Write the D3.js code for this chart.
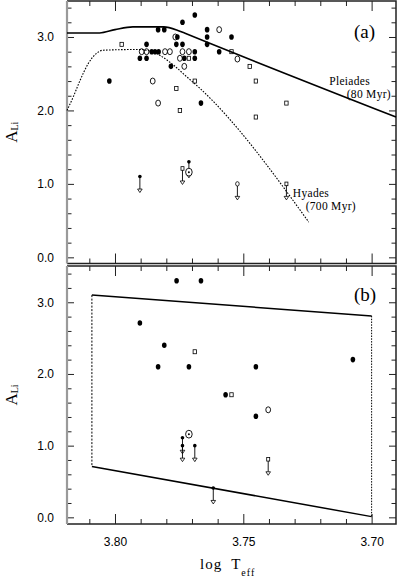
<!DOCTYPE html>
<html>
<head>
<meta charset="utf-8">
<script src="https://cdn.jsdelivr.net/npm/d3@7"></script>
<style>
  body { margin: 0; background: #fff; }
  svg { display: block; }
</style>
</head>
<body>
<svg id="chart" width="397" height="587"></svg>
<script>
// ---- data (log Teff, A(Li)) ----
const xMajor = [3.80, 3.75, 3.70];
const xMinor = [3.81, 3.79, 3.78, 3.77, 3.76, 3.74, 3.73, 3.72, 3.71];
const yMajor = [0, 1, 2, 3];
const yMinor = [0.2, 0.4, 0.6, 0.8, 1.2, 1.4, 1.6, 1.8, 2.2, 2.4, 2.6, 2.8, 3.2, 3.4];

// panel (a)
const aFilled = [
    [3.8022, 2.40], [3.7877, 2.90], [3.7903, 2.71], [3.7877, 2.71],
    [3.7857, 2.80], [3.7844, 2.80], [3.7830, 2.80], [3.7832, 3.10],
    [3.7808, 3.10], [3.7757, 3.00], [3.7761, 2.90], [3.7737, 2.90],
    [3.7782, 2.60], [3.7730, 2.71], [3.7737, 3.20], [3.7689, 3.30],
    [3.7689, 2.80], [3.7689, 2.71], [3.7665, 2.10], [3.7641, 3.10],
    [3.7641, 3.00], [3.7641, 2.90], [3.7546, 3.00], [3.7594, 2.80]
];
const aOpen = [
    [3.7896, 2.80], [3.7877, 2.80], [3.7805, 2.80], [3.7786, 2.80],
    [3.7737, 2.80], [3.7712, 2.80], [3.7765, 3.00], [3.7747, 2.71],
    [3.7730, 2.60], [3.7594, 3.10], [3.7523, 2.70], [3.7853, 2.40],
    [3.7832, 2.10]
];
const aSquare = [
    [3.7974, 2.90], [3.7712, 2.71], [3.7761, 2.30], [3.7747, 2.00],
    [3.7689, 2.40], [3.7546, 2.80], [3.7475, 2.60], [3.7451, 2.40],
    [3.7332, 2.10], [3.7451, 1.91]
];
// upper limits: [logT, A, symbol]
const aLimits = [
    [3.7903, 1.10, 'filled'], [3.7737, 1.21, 'square'], [3.7712, 1.30, 'filled'],
    [3.7523, 1.00, 'open'], [3.7332, 1.00, 'square']
];
const sun = [3.7712, 1.16];

const pleiades = [
    [3.8187, 3.055], [3.8060, 3.055], [3.8000, 3.10], [3.7930, 3.138],
    [3.7810, 3.138], [3.7755, 3.09], [3.7727, 3.05], [3.6905, 1.91]
];
const hyades = [
    [3.8187, 2.00], [3.8162, 2.19], [3.8136, 2.41], [3.8104, 2.64],
    [3.8071, 2.78], [3.8047, 2.82], [3.7903, 2.83], [3.7877, 2.82],
    [3.7825, 2.75], [3.7773, 2.62], [3.7721, 2.46], [3.7669, 2.30],
    [3.7245, 0.48]
];

// panel (b)
const bFilled = [
    [3.7760, 3.30], [3.7665, 3.30], [3.7903, 2.71], [3.7808, 2.40],
    [3.7832, 2.10], [3.7712, 2.10], [3.7451, 2.10], [3.7073, 2.20],
    [3.7569, 1.71], [3.7451, 1.41]
];
const bOpen = [[3.7403, 1.50]];
const bSquare = [[3.7689, 2.31], [3.7546, 1.71]];
const bLimits = [
    [3.7737, 1.11, 'filled'], [3.7737, 1.00, 'filled'], [3.7689, 1.00, 'filled'],
    [3.7617, 0.41, 'filled'], [3.7403, 0.81, 'square']
];
const boxX = [3.809, 3.700];
const boxTop = [3.10, 2.81];
const boxBottom = [0.71, 0.01];

// ---- layout ----
const left = 67, right = 396;
const x = d3.scaleLinear().domain([3.8187, 3.6905]).range([left, right]);
const yA = d3.scaleLinear().domain([-0.084, 3.49]).range([263.5, 1]);
const yB = d3.scaleLinear().domain([-0.093, 3.506]).range([524, 266]);

const svg = d3.select('#chart');
const sans = "'Liberation Sans', Arial, Helvetica, sans-serif";
const serif = "'Liberation Serif', 'Times New Roman', serif";

function styleAxis(sel) {
    sel.select('.domain').remove();
    sel.selectAll('line').attr('stroke', '#222').attr('stroke-width', 1);
    sel.attr('font-family', sans).attr('font-size', 12);
}

function drawFrame(y, top, bottom, xLabels) {
    const g = svg.append('g');

    g.append('g').attr('transform', `translate(${left},0)`)
        .call(d3.axisLeft(y).tickValues(yMajor).tickSize(-7).tickPadding(13).tickFormat(d3.format('.1f')))
        .call(styleAxis);
    g.append('g').attr('transform', `translate(${left},0)`)
        .call(d3.axisLeft(y).tickValues(yMinor).tickSize(-4.5).tickFormat(''))
        .call(styleAxis);
    g.append('g').attr('transform', `translate(${right},0)`)
        .call(d3.axisRight(y).tickValues(yMajor).tickSize(-7).tickFormat(''))
        .call(styleAxis);
    g.append('g').attr('transform', `translate(${right},0)`)
        .call(d3.axisRight(y).tickValues(yMinor).tickSize(-4.5).tickFormat(''))
        .call(styleAxis);

    g.append('g').attr('transform', `translate(0,${top})`)
        .call(d3.axisTop(x).tickValues(xMajor).tickSize(-10).tickFormat(''))
        .call(styleAxis);
    g.append('g').attr('transform', `translate(0,${top})`)
        .call(d3.axisTop(x).tickValues(xMinor).tickSize(-5).tickFormat(''))
        .call(styleAxis);
    g.append('g').attr('transform', `translate(0,${bottom})`)
        .call(d3.axisBottom(x).tickValues(xMajor).tickSize(-10).tickPadding(13)
            .tickFormat(xLabels ? d3.format('.2f') : ''))
        .call(styleAxis);
    g.append('g').attr('transform', `translate(0,${bottom})`)
        .call(d3.axisBottom(x).tickValues(xMinor).tickSize(-5).tickFormat(''))
        .call(styleAxis);

    // frame
    g.append('path')
        .attr('d', `M${left},${top}H${right}V${bottom}H${left}`)
        .attr('fill', 'none').attr('stroke', '#222').attr('stroke-width', 1.5);
    g.append('line')
        .attr('x1', left).attr('x2', left).attr('y1', top).attr('y2', bottom)
        .attr('stroke', '#9a9a9a').attr('stroke-width', 2.2);

    // y title
    const t = g.append('text')
        .attr('transform', `translate(17,${(top + bottom) / 2}) rotate(-90)`)
        .attr('text-anchor', 'middle')
        .attr('font-family', serif).attr('font-size', 17);
    t.append('tspan').text('A');
    t.append('tspan').attr('font-size', 10).attr('dy', 1).text('Li');
}

function drawPoints(y, filled, open, square, limits) {
    const g = svg.append('g');
    g.selectAll('ellipse.f').data(filled).join('ellipse')
        .attr('cx', d => x(d[0])).attr('cy', d => y(d[1]))
        .attr('rx', 2.3).attr('ry', 2.8).attr('fill', '#000');
    g.selectAll('ellipse.o').data(open).join('ellipse')
        .attr('cx', d => x(d[0])).attr('cy', d => y(d[1]))
        .attr('rx', 2.4).attr('ry', 3.0)
        .attr('fill', 'none').attr('stroke', '#000').attr('stroke-width', 0.9);
    g.selectAll('rect.s').data(square).join('rect')
        .attr('x', d => x(d[0]) - 1.7).attr('y', d => y(d[1]) - 2)
        .attr('width', 3.4).attr('height', 4)
        .attr('fill', 'none').attr('stroke', '#000').attr('stroke-width', 0.8);

    // upper limits with downward arrows
    const lim = g.selectAll('g.lim').data(limits).join('g')
        .attr('transform', d => `translate(${x(d[0])},${y(d[1])})`);
    lim.append('line').attr('y1', 0).attr('y2', 12.5)
        .attr('stroke', '#000').attr('stroke-width', 0.9);
    lim.append('path').attr('d', 'M-2.3,12.5H2.3L0,16Z')
        .attr('fill', '#fff').attr('stroke', '#000').attr('stroke-width', 0.8);
    lim.filter(d => d[2] === 'filled').append('circle').attr('r', 1.8).attr('fill', '#000');
    lim.filter(d => d[2] === 'open').append('ellipse').attr('rx', 1.8).attr('ry', 2.2)
        .attr('fill', '#fff').attr('stroke', '#000').attr('stroke-width', 0.8);
    lim.filter(d => d[2] === 'square').append('rect')
        .attr('x', -1.5).attr('y', -1.8).attr('width', 3).attr('height', 3.6)
        .attr('fill', '#fff').attr('stroke', '#000').attr('stroke-width', 0.8);
}

function drawSun(y) {
    const g = svg.append('g').attr('transform', `translate(${x(sun[0])},${y(sun[1])})`);
    g.append('ellipse').attr('rx', 3.3).attr('ry', 3.9)
        .attr('fill', '#fff').attr('stroke', '#000').attr('stroke-width', 0.9);
    g.append('circle').attr('r', 1).attr('fill', '#000');
}

// ---- panel (a) ----
drawFrame(yA, 1, 263.5, false);

const lineA = d3.line().x(d => x(d[0])).y(d => yA(d[1])).curve(d3.curveMonotoneX);
svg.append('path').attr('d', lineA(pleiades))
    .attr('fill', 'none').attr('stroke', '#000').attr('stroke-width', 1.6);
svg.append('path').attr('d', lineA(hyades))
    .attr('fill', 'none').attr('stroke', '#000').attr('stroke-width', 1.1)
    .attr('stroke-dasharray', '1.6,1.4');

drawPoints(yA, aFilled, aOpen, aSquare, aLimits);
drawSun(yA);

const annot = svg.append('g').attr('font-family', serif).attr('font-size', 11.5)
    .attr('letter-spacing', 0.3);
annot.append('text').attr('x', x(3.7165)).attr('y', yA(2.345)).text('Pleiades');
annot.append('text').attr('x', x(3.7097)).attr('y', yA(2.17)).text('(80 Myr)');
annot.append('text').attr('x', x(3.7307)).attr('y', yA(0.815)).text('Hyades');
annot.append('text').attr('x', x(3.7257)).attr('y', yA(0.638)).text('(700 Myr)');

svg.append('text').attr('x', right - 42).attr('y', 38)
    .attr('font-family', serif).attr('font-size', 19).text('(a)');

// ---- panel (b) ----
drawFrame(yB, 266, 524, true);

const lineB = d3.line().x(d => x(d[0])).y(d => yB(d[1]));
svg.append('path').attr('d', lineB([[boxX[0], boxTop[0]], [boxX[1], boxTop[1]]]))
    .attr('fill', 'none').attr('stroke', '#000').attr('stroke-width', 1.5);
svg.append('path').attr('d', lineB([[boxX[0], boxBottom[0]], [boxX[1], boxBottom[1]]]))
    .attr('fill', 'none').attr('stroke', '#000').attr('stroke-width', 1.5);
svg.append('path').attr('d', lineB([[boxX[0], boxTop[0]], [boxX[0], boxBottom[0]]]))
    .attr('fill', 'none').attr('stroke', '#000').attr('stroke-width', 1)
    .attr('stroke-dasharray', '2,1.5');
svg.append('path').attr('d', lineB([[boxX[1], boxTop[1]], [boxX[1], boxBottom[1]]]))
    .attr('fill', 'none').attr('stroke', '#000').attr('stroke-width', 1)
    .attr('stroke-dasharray', '1.5,1.3');

drawPoints(yB, bFilled, bOpen, bSquare, bLimits);
drawSun(yB);

svg.append('text').attr('x', right - 42).attr('y', 301)
    .attr('font-family', serif).attr('font-size', 19).text('(b)');

// x title
const xt = svg.append('text').attr('x', 200).attr('y', 569)
    .attr('font-family', serif).attr('font-size', 15).attr('letter-spacing', 1);
xt.append('tspan').text('log');
xt.append('tspan').attr('dx', 9).text('T');
xt.append('tspan').attr('font-size', 10).attr('dy', 7).text('eff');
</script>
</body>
</html>
